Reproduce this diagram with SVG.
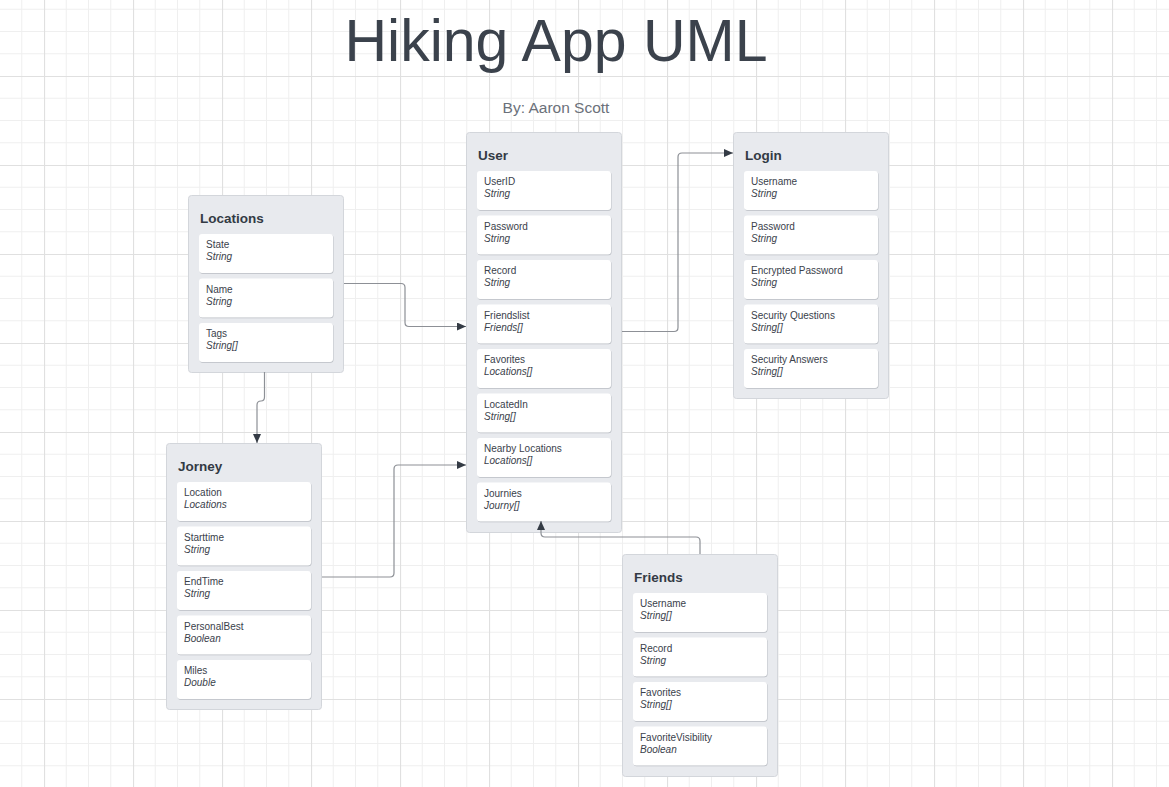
<svg xmlns="http://www.w3.org/2000/svg" width="1169" height="787" viewBox="0 0 1169 787">
<defs>
<pattern id="grid" x="44" y="76" width="89" height="89" patternUnits="userSpaceOnUse">
<path d="M22.25,0V89M44.5,0V89M66.75,0V89M0,22.25H89M0,44.5H89M0,66.75H89" stroke="#efefef" stroke-width="1" fill="none"/>
<path d="M0.5,0V89M0,0.5H89" stroke="#e0e0e0" stroke-width="1.2" fill="none"/>
</pattern>
<marker id="arr" markerUnits="userSpaceOnUse" markerWidth="10" markerHeight="8" refX="9" refY="4" orient="auto">
<path d="M0,0L9,4L0,8Z" fill="#343b45"/>
</marker>
</defs>
<style>
.outer{fill:#e8eaee;stroke:#d3d6db;stroke-width:1}
.sh{fill:#b9bdc3}
.fld{fill:#ffffff}
.ttl{font-family:"Liberation Sans",Arial,sans-serif;font-weight:bold;font-size:13.5px;fill:#333a44}
.fn{font-family:"Liberation Sans",Arial,sans-serif;font-size:10px;fill:#3a414b}
.ft{font-family:"Liberation Sans",Arial,sans-serif;font-size:10px;font-style:italic;fill:#3a414b}
.con{fill:none;stroke:#8d9096;stroke-width:1.2}
</style>
<rect width="1169" height="787" fill="#ffffff"/>
<rect width="1169" height="787" fill="url(#grid)"/>

<text x="556" y="61" text-anchor="middle" font-family="'Liberation Sans',Arial,sans-serif" font-size="59" fill="#3b424c">Hiking App UML</text>
<text x="556" y="113" text-anchor="middle" font-family="'Liberation Sans',Arial,sans-serif" font-size="15.5" fill="#6b717a">By: Aaron Scott</text>

<g id="user" transform="translate(466,132)">
<rect class="outer" x="0.5" y="0.5" width="155" height="400" rx="3"/>
<text class="ttl" x="12" y="28">User</text>
<g transform="translate(11,39)"><rect class="sh" x="0.5" y="0.8" width="134" height="39" rx="3"/><rect class="fld" width="134" height="39" rx="3"/><text class="fn" x="7" y="14">UserID</text><text class="ft" x="7" y="26">String</text></g>
<g transform="translate(11,83.5)"><rect class="sh" x="0.5" y="0.8" width="134" height="39" rx="3"/><rect class="fld" width="134" height="39" rx="3"/><text class="fn" x="7" y="14">Password</text><text class="ft" x="7" y="26">String</text></g>
<g transform="translate(11,128)"><rect class="sh" x="0.5" y="0.8" width="134" height="39" rx="3"/><rect class="fld" width="134" height="39" rx="3"/><text class="fn" x="7" y="14">Record</text><text class="ft" x="7" y="26">String</text></g>
<g transform="translate(11,172.5)"><rect class="sh" x="0.5" y="0.8" width="134" height="39" rx="3"/><rect class="fld" width="134" height="39" rx="3"/><text class="fn" x="7" y="14">Friendslist</text><text class="ft" x="7" y="26">Friends[]</text></g>
<g transform="translate(11,217)"><rect class="sh" x="0.5" y="0.8" width="134" height="39" rx="3"/><rect class="fld" width="134" height="39" rx="3"/><text class="fn" x="7" y="14">Favorites</text><text class="ft" x="7" y="26">Locations[]</text></g>
<g transform="translate(11,261.5)"><rect class="sh" x="0.5" y="0.8" width="134" height="39" rx="3"/><rect class="fld" width="134" height="39" rx="3"/><text class="fn" x="7" y="14">LocatedIn</text><text class="ft" x="7" y="26">String[]</text></g>
<g transform="translate(11,306)"><rect class="sh" x="0.5" y="0.8" width="134" height="39" rx="3"/><rect class="fld" width="134" height="39" rx="3"/><text class="fn" x="7" y="14">Nearby Locations</text><text class="ft" x="7" y="26">Locations[]</text></g>
<g transform="translate(11,350.5)"><rect class="sh" x="0.5" y="0.8" width="134" height="39" rx="3"/><rect class="fld" width="134" height="39" rx="3"/><text class="fn" x="7" y="14">Journies</text><text class="ft" x="7" y="26">Journy[]</text></g>
</g>

<g id="login" transform="translate(733,132)">
<rect class="outer" x="0.5" y="0.5" width="155" height="266" rx="3"/>
<text class="ttl" x="12" y="28">Login</text>
<g transform="translate(11,39)"><rect class="sh" x="0.5" y="0.8" width="134" height="39" rx="3"/><rect class="fld" width="134" height="39" rx="3"/><text class="fn" x="7" y="14">Username</text><text class="ft" x="7" y="26">String</text></g>
<g transform="translate(11,83.5)"><rect class="sh" x="0.5" y="0.8" width="134" height="39" rx="3"/><rect class="fld" width="134" height="39" rx="3"/><text class="fn" x="7" y="14">Password</text><text class="ft" x="7" y="26">String</text></g>
<g transform="translate(11,128)"><rect class="sh" x="0.5" y="0.8" width="134" height="39" rx="3"/><rect class="fld" width="134" height="39" rx="3"/><text class="fn" x="7" y="14">Encrypted Password</text><text class="ft" x="7" y="26">String</text></g>
<g transform="translate(11,172.5)"><rect class="sh" x="0.5" y="0.8" width="134" height="39" rx="3"/><rect class="fld" width="134" height="39" rx="3"/><text class="fn" x="7" y="14">Security Questions</text><text class="ft" x="7" y="26">String[]</text></g>
<g transform="translate(11,217)"><rect class="sh" x="0.5" y="0.8" width="134" height="39" rx="3"/><rect class="fld" width="134" height="39" rx="3"/><text class="fn" x="7" y="14">Security Answers</text><text class="ft" x="7" y="26">String[]</text></g>
</g>

<g id="locations" transform="translate(188,195)">
<rect class="outer" x="0.5" y="0.5" width="155" height="177" rx="3"/>
<text class="ttl" x="12" y="28">Locations</text>
<g transform="translate(11,39)"><rect class="sh" x="0.5" y="0.8" width="134" height="39" rx="3"/><rect class="fld" width="134" height="39" rx="3"/><text class="fn" x="7" y="14">State</text><text class="ft" x="7" y="26">String</text></g>
<g transform="translate(11,83.5)"><rect class="sh" x="0.5" y="0.8" width="134" height="39" rx="3"/><rect class="fld" width="134" height="39" rx="3"/><text class="fn" x="7" y="14">Name</text><text class="ft" x="7" y="26">String</text></g>
<g transform="translate(11,128)"><rect class="sh" x="0.5" y="0.8" width="134" height="39" rx="3"/><rect class="fld" width="134" height="39" rx="3"/><text class="fn" x="7" y="14">Tags</text><text class="ft" x="7" y="26">String[]</text></g>
</g>

<g id="jorney" transform="translate(166,443)">
<rect class="outer" x="0.5" y="0.5" width="155" height="266" rx="3"/>
<text class="ttl" x="12" y="28">Jorney</text>
<g transform="translate(11,39)"><rect class="sh" x="0.5" y="0.8" width="134" height="39" rx="3"/><rect class="fld" width="134" height="39" rx="3"/><text class="fn" x="7" y="14">Location</text><text class="ft" x="7" y="26">Locations</text></g>
<g transform="translate(11,83.5)"><rect class="sh" x="0.5" y="0.8" width="134" height="39" rx="3"/><rect class="fld" width="134" height="39" rx="3"/><text class="fn" x="7" y="14">Starttime</text><text class="ft" x="7" y="26">String</text></g>
<g transform="translate(11,128)"><rect class="sh" x="0.5" y="0.8" width="134" height="39" rx="3"/><rect class="fld" width="134" height="39" rx="3"/><text class="fn" x="7" y="14">EndTime</text><text class="ft" x="7" y="26">String</text></g>
<g transform="translate(11,172.5)"><rect class="sh" x="0.5" y="0.8" width="134" height="39" rx="3"/><rect class="fld" width="134" height="39" rx="3"/><text class="fn" x="7" y="14">PersonalBest</text><text class="ft" x="7" y="26">Boolean</text></g>
<g transform="translate(11,217)"><rect class="sh" x="0.5" y="0.8" width="134" height="39" rx="3"/><rect class="fld" width="134" height="39" rx="3"/><text class="fn" x="7" y="14">Miles</text><text class="ft" x="7" y="26">Double</text></g>
</g>

<g id="friends" transform="translate(622,554)">
<rect class="outer" x="0.5" y="0.5" width="155" height="222" rx="3"/>
<text class="ttl" x="12" y="28">Friends</text>
<g transform="translate(11,39)"><rect class="sh" x="0.5" y="0.8" width="134" height="39" rx="3"/><rect class="fld" width="134" height="39" rx="3"/><text class="fn" x="7" y="14">Username</text><text class="ft" x="7" y="26">String[]</text></g>
<g transform="translate(11,83.5)"><rect class="sh" x="0.5" y="0.8" width="134" height="39" rx="3"/><rect class="fld" width="134" height="39" rx="3"/><text class="fn" x="7" y="14">Record</text><text class="ft" x="7" y="26">String</text></g>
<g transform="translate(11,128)"><rect class="sh" x="0.5" y="0.8" width="134" height="39" rx="3"/><rect class="fld" width="134" height="39" rx="3"/><text class="fn" x="7" y="14">Favorites</text><text class="ft" x="7" y="26">String[]</text></g>
<g transform="translate(11,172.5)"><rect class="sh" x="0.5" y="0.8" width="134" height="39" rx="3"/><rect class="fld" width="134" height="39" rx="3"/><text class="fn" x="7" y="14">FavoriteVisibility</text><text class="ft" x="7" y="26">Boolean</text></g>
</g>

<g id="connectors">
<path class="con" d="M344,283.5H401Q405,283.5 405,287.5V322.5Q405,326.5 409,326.5H466" marker-end="url(#arr)"/>
<path class="con" d="M622,331.5H674Q678,331.5 678,327.5V157Q678,153 682,153H733" marker-end="url(#arr)"/>
<path class="con" d="M264.5,372V397Q264.5,401 261,401Q257,401 257,405V443" marker-end="url(#arr)"/>
<path class="con" d="M322,577H390Q394,577 394,573V469Q394,465 398,465H466" marker-end="url(#arr)"/>
<path class="con" d="M700,554V541Q700,537 696,537H545Q541,537 541,533V521" marker-end="url(#arr)"/>
</g>
</svg>
